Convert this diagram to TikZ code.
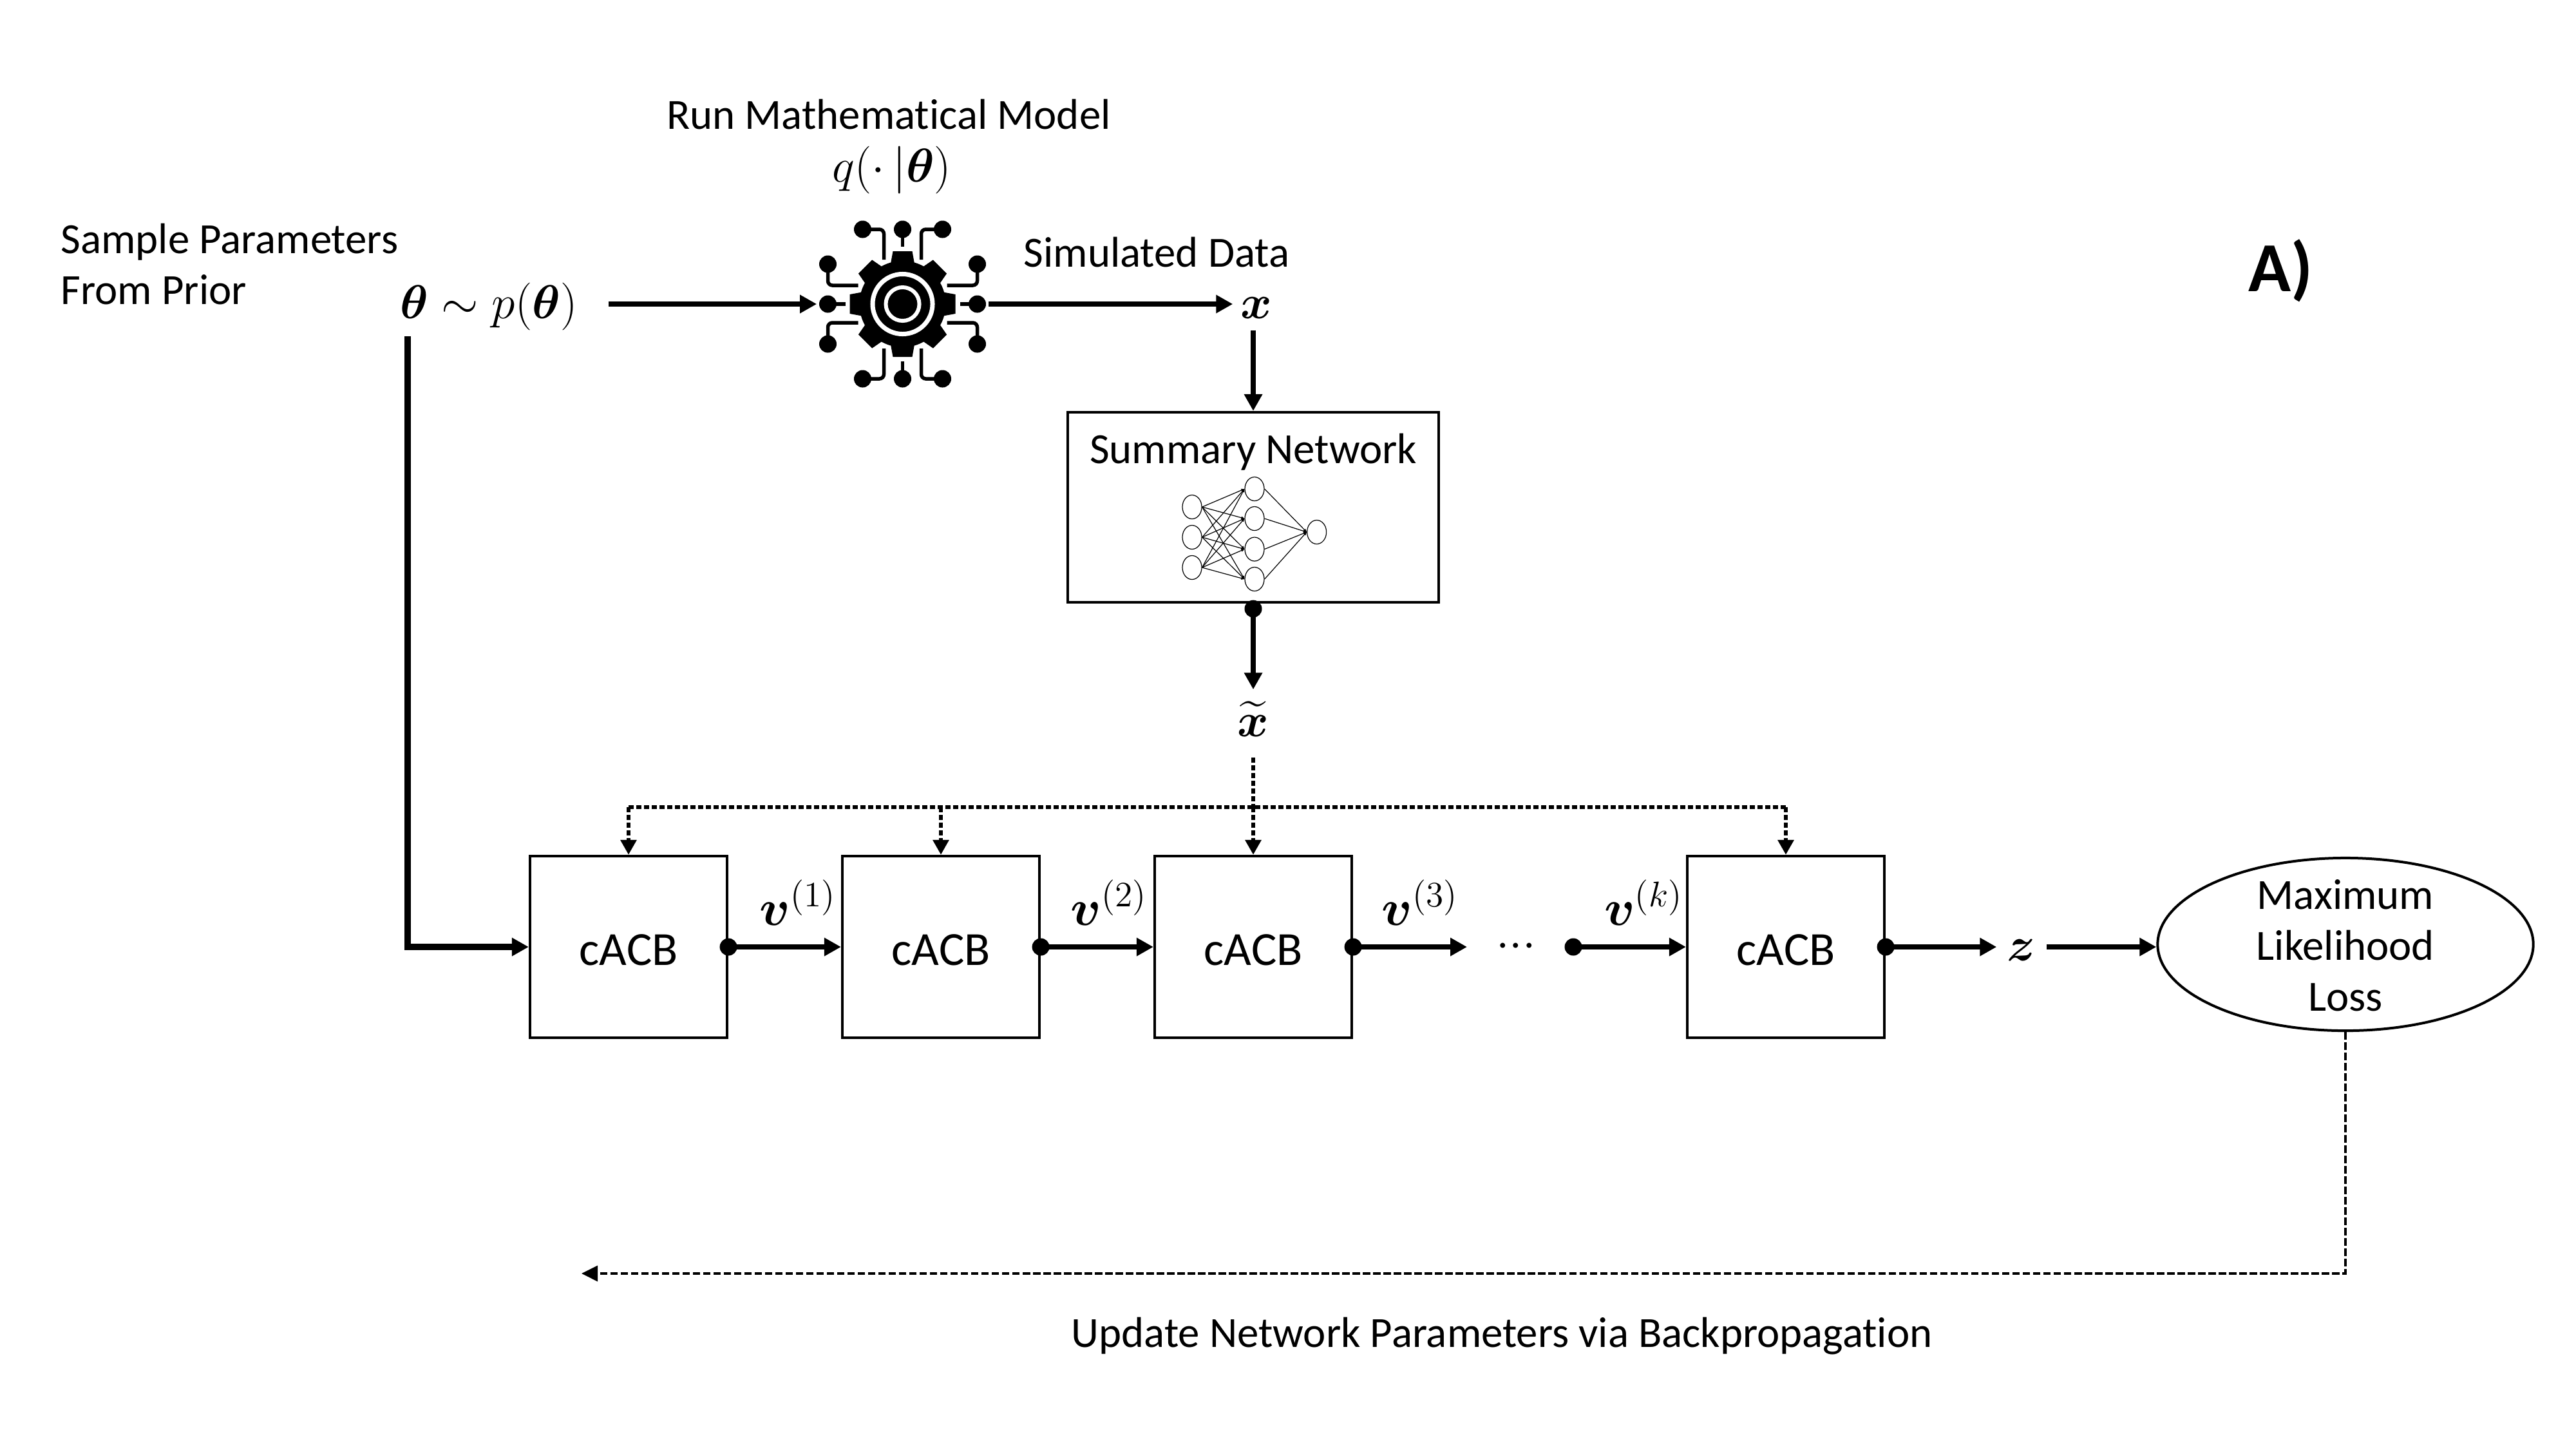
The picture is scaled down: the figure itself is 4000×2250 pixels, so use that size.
\documentclass[tikz,border=0pt]{standalone}
\usepackage{fix-cm}
\usepackage{amsmath}
\usepackage{fontspec}
\setmainfont{Carlito}[Ligatures=CommonOff]
\usetikzlibrary{arrows.meta,shapes.geometric}

\tikzset{
  lbl/.style={font=\fontsize{19}{22.5}\selectfont, inner sep=0pt, align=center},
  mathlbl/.style={font=\fontsize{21}{25}\selectfont, inner sep=0pt},
  acb/.style={draw, line width=.04cm, minimum width=3.06cm, minimum height=2.82cm, text height=.575cm, font=\fontsize{21}{25}\selectfont},
  dotnode/.style={circle, fill=black, minimum size=.27cm, inner sep=0pt},
  flow/.style={-{Triangle[length=.26cm,width=.27cm]}, line width=.085cm},
  bus/.style={line width=.06cm, dash pattern=on .08cm off .04cm},
  busdrop/.style={bus, -{Triangle[length=.23cm,width=.24cm]}},
  neuron/.style={draw, ellipse, line width=.012cm, minimum width=.3cm, minimum height=.37cm, inner sep=0pt},
  synapse/.style={line width=.012cm, -{Triangle[length=.05cm,width=.04cm]}},
  gearwire/.style={line width=.055cm, rounded corners=.07cm}
}

\begin{document}
\begin{tikzpicture}[x=.01cm,y=-.01cm]
  \useasboundingbox (0,0) rectangle (4000,2250);

  \node[lbl, align=left, anchor=west] (sample) at (94,410) {Sample Parameters\\From Prior};
  \node[mathlbl, minimum width=3.7cm] (prior) at (759,476) {$\boldsymbol{\theta}\sim p(\boldsymbol{\theta})$};
  \node[lbl] (run) at (1380,178) {Run Mathematical Model};
  \node[mathlbl] (model) at (1385,264) {$q(\cdot\,|\boldsymbol{\theta})$};
  \node[lbl] (simdata) at (1796,392) {Simulated Data};
  \node[circle, minimum size=2.65cm, inner sep=0pt] (gear) at (1401.5,472) {};
  \node[mathlbl, minimum width=.72cm, minimum height=.68cm] (x) at (1951,478) {$\boldsymbol{x}$};
  \node[draw, line width=.04cm, minimum width=5.76cm, minimum height=2.95cm] (sum) at (1946,787.5) {};
  \node[lbl] (sumtext) at (1946,702) {Summary Network};
  \node[dotnode] (sumdot) at ([yshift=-.08cm]sum.south) {};
  \node[mathlbl, minimum height=.9cm] (xt) at (1946,1116) {$\widetilde{\boldsymbol{x}}$};
  \coordinate (tap) at (1946,1176);
  \coordinate (busline) at (1946,1253);
  \node[font=\fontsize{31}{37}\selectfont\bfseries, inner sep=0pt] (panel) at (3541,420) {A)};

  \foreach \n/\y in {1/787,2/834,3/881}
    \node[neuron] (in\n) at (1851,\y) {};
  \foreach \n/\y in {1/759,2/805,3/852.5,4/899}
    \node[neuron] (hid\n) at (1948,\y) {};
  \node[neuron] (out) at (2044.6,826) {};
  \foreach \i in {1,2,3}
    \foreach \j in {1,2,3,4}
      \draw[synapse] (in\i.east) -- (hid\j.west);
  \foreach \j in {1,2,3,4}
    \draw[synapse] (hid\j.east) -- (out.west);

  \foreach \n/\cx in {1/976,2/1461,3/1946,4/2773}{
    \node[acb] (b\n) at (\cx,1470) {cACB};
    \node[dotnode] (d\n) at (b\n.east) {};
  }
  \node[dotnode] (dk) at (2443,1470) {};
  \node[mathlbl] (dots) at (2354,1470) {$\mathord{\cdot}\mathord{\cdot}\mathord{\cdot}$};
  \coordinate (v3end) at (2278,1470);
  \node[mathlbl, font=\fontsize{22.5}{27}\selectfont] (v1) at (1239,1401) {$\boldsymbol{v}^{(1)}$};
  \node[mathlbl, font=\fontsize{22.5}{27}\selectfont] (v2) at (1722,1401) {$\boldsymbol{v}^{(2)}$};
  \node[mathlbl, font=\fontsize{22.5}{27}\selectfont] (v3) at (2205,1401) {$\boldsymbol{v}^{(3)}$};
  \node[mathlbl, font=\fontsize{22.5}{27}\selectfont] (vk) at (2552,1401) {$\boldsymbol{v}^{(k)}$};
  \node[mathlbl, minimum width=.76cm] (z) at (3139,1475) {$\boldsymbol{z}$};
  \node[draw, ellipse, line width=.04cm, minimum width=5.83cm, minimum height=2.68cm, inner sep=0pt] (loss) at (3642,1466) {};
  \node[lbl] (losstext) at (3642,1468) {Maximum\\Likelihood\\Loss};
  \coordinate (back) at (903,1977);
  \node[lbl] (update) at (2332,2074) {Update Network Parameters via Backpropagation};

  \draw[flow] (prior.east |- gear.west) -- (gear.west);
  \draw[flow] (gear.east) -- (gear.east -| x.west);
  \draw[flow] (sum.north |- x.south) -- (sum.north);
  \draw[flow] (sumdot.center) -- (xt.north);
  \coordinate (drop) at (633,522);
  \draw[flow, line width=.1cm] (drop) |- (b1.west);
  \draw[flow] (d1.center) -- (b2.west);
  \draw[flow] (d2.center) -- (b3.west);
  \draw[flow] (d3.center) -- (v3end);
  \draw[flow] (dk.center) -- (b4.west);
  \draw[flow] (d4.center) -- (b4.east -| z.west);
  \draw[flow] (b4.east -| z.east) -- (b4.east -| loss.west);

  \draw[bus] (tap) -- (busline);
  \draw[bus] (b1.north |- busline) -- (b4.north |- busline);
  \foreach \n in {1,2,3,4}
    \draw[busdrop] (b\n.north |- busline) -- (b\n.north);

  \draw[line width=.035cm, dash pattern=on .115cm off .045cm, -{Triangle[length=.25cm,width=.24cm]}] (loss.south) |- (back);

  \begin{scope}[shift={(gear.center)}]
    \fill circle[radius=.67cm];
    \foreach \a in {0,45,...,315}
      \fill[rotate=\a] (-19,-60) -- (-15,-82) -- (15,-82) -- (19,-60) -- cycle;
    \draw[white, line width=.07cm] circle[radius=.465cm];
    \draw[white, line width=.06cm] circle[radius=.26cm];
    \foreach \a in {0,90,180,270}{
      \begin{scope}[rotate=\a]
        \fill (0,-116) circle[radius=.135cm];
        \fill (-62,-116) circle[radius=.135cm];
        \fill (62,-116) circle[radius=.135cm];
        \draw[gearwire] (0,-116) -- (0,-89);
        \draw[gearwire] (-62,-116) -| (-29,-69);
        \draw[gearwire] (62,-116) -| (29,-69);
      \end{scope}
    }
  \end{scope}
\end{tikzpicture}
\end{document}
